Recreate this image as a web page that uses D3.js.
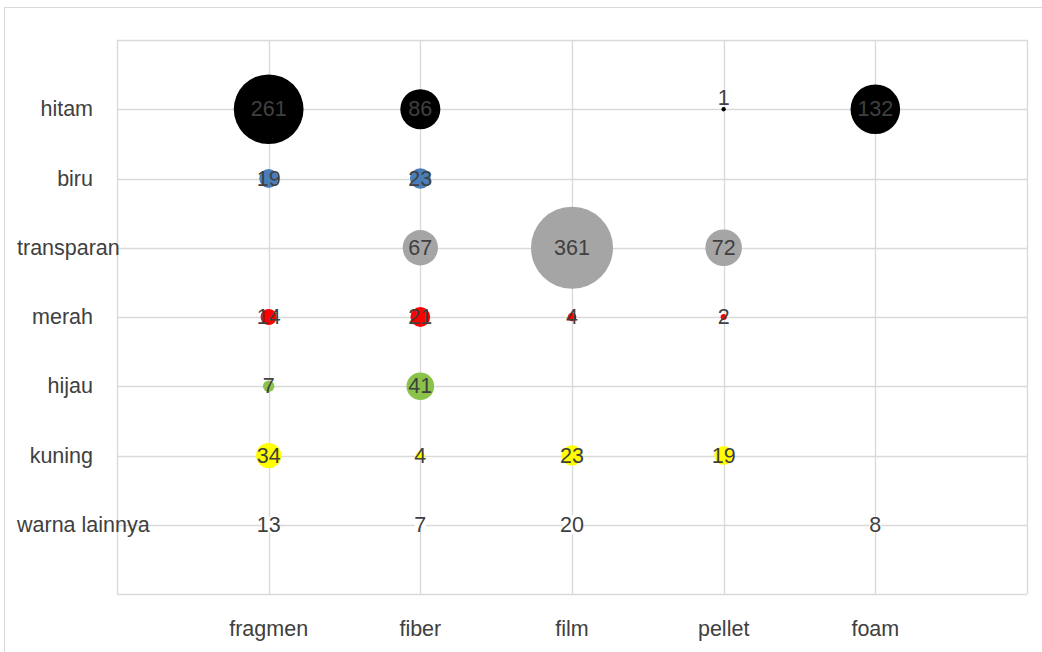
<!DOCTYPE html>
<html>
<head>
<meta charset="utf-8">
<script src="https://cdn.jsdelivr.net/npm/d3@7"></script>
<style>
  html, body { margin: 0; padding: 0; background: #fff; }
  svg { display: block; }
  text { font-family: "Liberation Sans", Arial, sans-serif; }
</style>
</head>
<body>
<svg id="chart" width="1042" height="652"></svg>
<script>
// Shape categories (x axis) and colour categories (y axis)
const shapes = ["fragmen", "fiber", "film", "pellet", "foam"];
const colours = ["hitam", "biru", "transparan", "merah", "hijau", "kuning", "warna lainnya"];

// Counts per colour, one value per shape (null = none)
const hitam        = [261, 86, null, 1, 132];
const biru         = [19, 23, null, null, null];
const transparan   = [null, 67, 361, 72, null];
const merah        = [14, 21, 4, 2, null];
const hijau        = [7, 41, null, null, null];
const kuning       = [34, 4, 23, 19, null];
const warnaLainnya = [13, 7, 20, null, 8];

const seriesValues = [hitam, biru, transparan, merah, hijau, kuning, warnaLainnya];
const fills = ["#000000", "#4a7ebb", "#a5a5a5", "#ff0000", "#8bc34a", "#ffff00", "#ffffff"];

const svg = d3.select("#chart");
const plotLeft = 117, plotRight = 1027, plotTop = 40, plotBottom = 594;
const fontSize = 21.5;

// Outer chart frame
svg.append("rect")
  .attr("x", 4.5).attr("y", 7.5).attr("width", 1060).attr("height", 680)
  .attr("fill", "none").attr("stroke", "#d9d9d9").attr("stroke-width", 1);

const x = d3.scaleLinear().domain([0, 6]).range([plotLeft, plotRight]);
const y = d3.scaleLinear().domain([0, 8]).range([plotBottom, plotTop]);
const r = d3.scaleSqrt().domain([0, 361]).range([0, 41]);

// Gridlines
svg.append("g").selectAll("line").data(d3.range(0, 7)).join("line")
  .attr("x1", d => Math.round(x(d)) + 0.5).attr("x2", d => Math.round(x(d)) + 0.5)
  .attr("y1", plotTop).attr("y2", plotBottom)
  .attr("stroke", "#d9d9d9").attr("stroke-width", 1.3);
svg.append("g").selectAll("line").data(d3.range(0, 9)).join("line")
  .attr("y1", d => Math.round(y(d)) + 0.5).attr("y2", d => Math.round(y(d)) + 0.5)
  .attr("x1", plotLeft).attr("x2", plotRight)
  .attr("stroke", "#d9d9d9").attr("stroke-width", 1.3);

// Flatten to bubble records
const bubbles = [];
seriesValues.forEach((vals, ci) => {
  vals.forEach((v, si) => {
    if (v != null) bubbles.push({ colour: colours[ci], ci, si, v });
  });
});

// Bubbles
svg.append("g").selectAll("circle").data(bubbles).join("circle")
  .attr("cx", d => x(d.si + 1))
  .attr("cy", d => y(7 - d.ci))
  .attr("r", d => Math.max(r(d.v), 2))
  .attr("fill", d => fills[d.ci]);

// Value labels (a tiny bubble gets its label lifted above the dot)
svg.append("g").selectAll("text").data(bubbles).join("text")
  .attr("x", d => x(d.si + 1))
  .attr("y", d => y(7 - d.ci) + (d.v === 1 ? -11 : 0))
  .attr("text-anchor", "middle")
  .attr("dominant-baseline", "central")
  .attr("font-size", fontSize)
  .attr("fill", "#404040")
  .text(d => d.v);

// X axis labels
svg.append("g").selectAll("text").data(shapes).join("text")
  .attr("x", (d, i) => x(i + 1))
  .attr("y", 629)
  .attr("dominant-baseline", "central")
  .attr("text-anchor", "middle")
  .attr("font-size", fontSize)
  .attr("fill", "#404040")
  .text(d => d);

// Y axis labels: right-aligned, but never starting left of the frame margin
svg.append("g").selectAll("text").data(colours).join("text")
  .attr("y", (d, i) => y(7 - i))
  .attr("dominant-baseline", "central")
  .attr("font-size", fontSize)
  .attr("fill", "#404040")
  .text(d => d)
  .each(function () {
    const w = this.getComputedTextLength();
    d3.select(this).attr("x", Math.max(17, 93 - w));
  });
</script>
</body>
</html>
